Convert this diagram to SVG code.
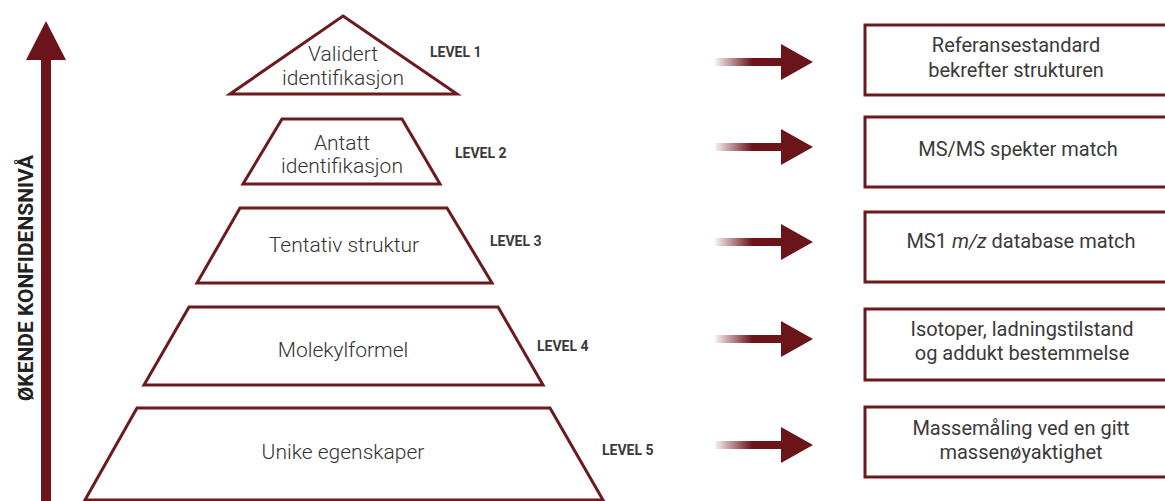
<svg xmlns="http://www.w3.org/2000/svg" width="1165" height="501" viewBox="0 0 1165 501">
<defs>
<linearGradient id="fade" x1="0" y1="0" x2="1" y2="0">
<stop offset="0" stop-color="#6B1419" stop-opacity="0.05"/>
<stop offset="0.55" stop-color="#6B1419" stop-opacity="1"/>
<stop offset="1" stop-color="#6B1419" stop-opacity="1"/>
</linearGradient>
<style>
.shape{fill:#fff;stroke:#6B1A1E;stroke-width:3;stroke-linejoin:miter}
.pt{font-family:Roboto,"Liberation Sans",sans-serif;font-size:21px;fill:#333;text-anchor:middle;font-weight:300}
.bt{font-family:Roboto,"Liberation Sans",sans-serif;font-size:20px;fill:#3a3a3a;text-anchor:middle}
.lv{font-family:Roboto,"Liberation Sans",sans-serif;font-size:14px;font-weight:bold;fill:#3a3a3a}
.ax{font-family:Roboto,"Liberation Sans",sans-serif;font-size:21px;font-weight:bold;fill:#222;text-anchor:middle}
.ah{fill:#6B1419}
</style>
</defs>
<rect width="1165" height="501" fill="#fff"/>

<g id="axis">
<rect x="41" y="58" width="10" height="443" fill="#6B1419"/>
<polygon points="46,21 66,60 26,60" fill="#6B1419"/>
<text class="ax" transform="translate(33,278) rotate(-90)">ØKENDE KONFIDENSNIVÅ</text>
</g>

<g id="level1">
<polygon class="shape" points="343,16 457,94 230,94"/>
<text class="pt" x="343" y="61">Validert</text>
<text class="pt" x="343" y="85">identifikasjon</text>
<text class="lv" x="430" y="57">LEVEL 1</text>
</g>
<g id="level2">
<polygon class="shape" points="282,119 402,119 440,184 243,184"/>
<text class="pt" x="342" y="150">Antatt</text>
<text class="pt" x="342" y="173">identifikasjon</text>
<text class="lv" x="455" y="158">LEVEL 2</text>
</g>
<g id="level3">
<polygon class="shape" points="240,208 447,208 492,283 197,283"/>
<text class="pt" x="344" y="252">Tentativ struktur</text>
<text class="lv" x="490" y="246">LEVEL 3</text>
</g>
<g id="level4">
<polygon class="shape" points="189,307 498,307 543,385 144,385"/>
<text class="pt" x="343" y="357">Molekylformel</text>
<text class="lv" x="537" y="351">LEVEL 4</text>
</g>
<g id="level5">
<polygon class="shape" points="137,408 550,408 603,500 85,500"/>
<text class="pt" x="343" y="459">Unike egenskaper</text>
<text class="lv" x="602" y="455">LEVEL 5</text>
</g>

<g id="connectors">
<rect x="715" y="58" width="68" height="8" fill="url(#fade)"/>
<polygon class="ah" points="781,44 813,62 781,80"/>
<rect x="715" y="143" width="68" height="8" fill="url(#fade)"/>
<polygon class="ah" points="781,129 813,147 781,165"/>
<rect x="715" y="238" width="68" height="8" fill="url(#fade)"/>
<polygon class="ah" points="781,224 813,242 781,260"/>
<rect x="715" y="335" width="68" height="8" fill="url(#fade)"/>
<polygon class="ah" points="781,321 813,339 781,357"/>
<rect x="715" y="441" width="68" height="8" fill="url(#fade)"/>
<polygon class="ah" points="781,427 813,445 781,463"/>
</g>

<g id="box1">
<rect class="shape" x="865" y="25" width="320" height="70"/>
<text class="bt" x="1016" y="52">Referansestandard</text>
<text class="bt" x="1016" y="77">bekrefter strukturen</text>
</g>
<g id="box2">
<rect class="shape" x="865" y="117" width="320" height="70"/>
<text class="bt" x="1018" y="156">MS/MS spekter match</text>
</g>
<g id="box3">
<rect class="shape" x="865" y="212" width="320" height="70"/>
<text class="bt" x="1021" y="248">MS1 <tspan font-style="italic">m/z</tspan> database match</text>
</g>
<g id="box4">
<rect class="shape" x="865" y="309" width="320" height="71"/>
<text class="bt" x="1022" y="336">Isotoper, ladningstilstand</text>
<text class="bt" x="1022" y="360">og addukt bestemmelse</text>
</g>
<g id="box5">
<rect class="shape" x="865" y="407" width="320" height="70"/>
<text class="bt" x="1021" y="435">Massemåling ved en gitt</text>
<text class="bt" x="1021" y="459">massenøyaktighet</text>
</g>
</svg>
